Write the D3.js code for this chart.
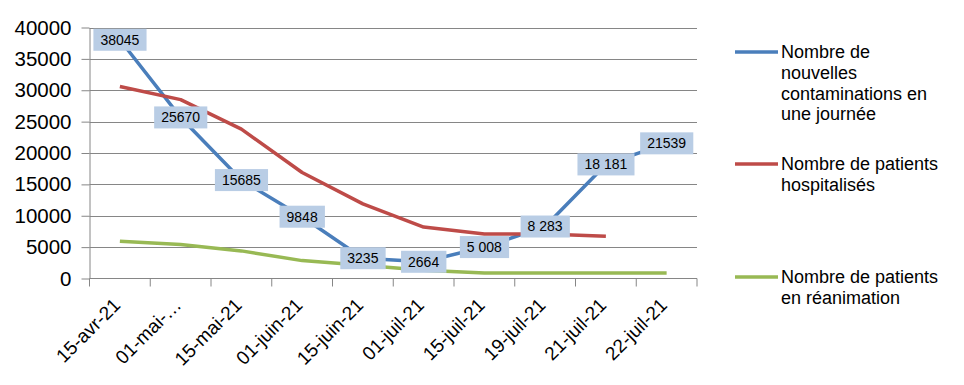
<!DOCTYPE html>
<html>
<head>
<meta charset="utf-8">
<script src="https://cdn.jsdelivr.net/npm/d3@7"></script>
<style>
  body { margin: 0; background: #fff; }
  svg { display: block; font-family: "Liberation Sans", Arial, sans-serif; }
</style>
</head>
<body>
<svg id="svg" width="964" height="385"></svg>
<script>
// categories and series
const dates = ["15-avr-21", "01-mai-…", "15-mai-21", "01-juin-21", "15-juin-21",
               "01-juil-21", "15-juil-21", "19-juil-21", "21-juil-21", "22-juil-21"];
const contaminations = [38045, 25670, 15685, 9848, 3235, 2664, 5008, 8283, 18181, 21539];
const contaminationLabels = ["38045", "25670", "15685", "9848", "3235", "2664", "5 008", "8 283", "18 181", "21539"];
const hospitalises = [30600, 28500, 23800, 16900, 11900, 8200, 7100, 7100, 6750, null];
const reanimation = [5950, 5400, 4400, 2850, 2100, 1300, 880, 880, 880, 880];
const yTicks = [0, 5000, 10000, 15000, 20000, 25000, 30000, 35000, 40000];

const series = [
  { name: ["Nombre de", "nouvelles", "contaminations en", "une journée"], values: contaminations, color: "#4A7EBB", legendY: 52 },
  { name: ["Nombre de patients", "hospitalisés"], values: hospitalises, color: "#BE4B48", legendY: 164 },
  { name: ["Nombre de patients", "en réanimation"], values: reanimation, color: "#98B954", legendY: 277 }
];

const svg = d3.select("#svg");
const plotL = 89.5, plotR = 697, plotT = 27.5, plotB = 278.5;

const x = d3.scaleBand().domain(dates).range([plotL, plotR]).padding(0);
const y = d3.scaleLinear().domain([0, 40000]).range([plotB, plotT]);
const cx = d => x(d) + x.bandwidth() / 2;

// gridlines
svg.append("g")
  .selectAll("line")
  .data(yTicks.filter(t => t > 0))
  .join("line")
  .attr("x1", plotL).attr("x2", plotR)
  .attr("y1", d => Math.round(y(d)) + 0.5).attr("y2", d => Math.round(y(d)) + 0.5)
  .attr("stroke", "#868686").attr("stroke-width", 1);

// y axis
const yAxis = svg.append("g")
  .attr("transform", `translate(${plotL},0)`)
  .call(d3.axisLeft(y).tickValues(yTicks).tickSize(8).tickSizeOuter(0).tickPadding(10).tickFormat(d3.format("d")));
yAxis.select(".domain").attr("stroke", "#868686");
yAxis.selectAll(".tick line").attr("stroke", "#868686");
yAxis.selectAll(".tick text").attr("font-size", 20.5).attr("fill", "#000").attr("font-family", "Liberation Sans, Arial, sans-serif");

// x axis
const xg = svg.append("g").attr("transform", `translate(0,${plotB})`);
xg.append("line").attr("x1", plotL).attr("x2", plotR).attr("stroke", "#868686");
xg.selectAll("line.tk")
  .data(dates.map(d => x(d)).concat([plotR]))
  .join("line").attr("class", "tk")
  .attr("x1", d => d).attr("x2", d => d).attr("y1", 0).attr("y2", 8)
  .attr("stroke", "#868686");
xg.selectAll("text")
  .data(dates)
  .join("text")
  .attr("transform", d => `translate(${cx(d) - 3},${23}) rotate(-45)`)
  .attr("text-anchor", "end")
  .attr("dy", "0.35em")
  .attr("font-size", 19)
  .attr("fill", "#000")
  .text(d => d);

// lines
const line = d3.line()
  .defined(d => d.v != null)
  .x(d => cx(d.c))
  .y(d => y(d.v));

series.forEach(s => {
  svg.append("path")
    .datum(dates.map((c, i) => ({ c, v: s.values[i] })))
    .attr("d", line)
    .attr("fill", "none")
    .attr("stroke", s.color)
    .attr("stroke-width", 3.5)
    .attr("stroke-linejoin", "round");
});

// data labels on the contamination series
const lab = svg.append("g").selectAll("g")
  .data(dates.map((c, i) => ({ c, v: contaminations[i], t: contaminationLabels[i] })))
  .join("g")
  .attr("transform", d => `translate(${cx(d.c)},${y(d.v)})`);
lab.append("text")
  .attr("text-anchor", "middle")
  .attr("dy", "0.35em")
  .attr("font-size", 14)
  .attr("fill", "#000")
  .text(d => d.t);
lab.each(function() {
  const g = d3.select(this);
  const bb = g.select("text").node().getBBox();
  g.insert("rect", "text")
    .attr("x", bb.x - 7).attr("width", bb.width + 14)
    .attr("y", -11).attr("height", 22)
    .attr("fill", "#B9CDE5");
});

// legend
const leg = svg.append("g").selectAll("g").data(series).join("g")
  .attr("transform", d => `translate(735,${d.legendY})`);
leg.append("line")
  .attr("x1", 0).attr("x2", 43)
  .attr("stroke", d => d.color).attr("stroke-width", 3.5);
leg.append("text")
  .attr("x", 46)
  .attr("font-size", 18)
  .attr("fill", "#000")
  .selectAll("tspan")
  .data(d => d.name)
  .join("tspan")
  .attr("x", 46)
  .attr("y", (d, i) => i * 20.7)
  .attr("dy", "0.35em")
  .text(d => d);
</script>
</body>
</html>
